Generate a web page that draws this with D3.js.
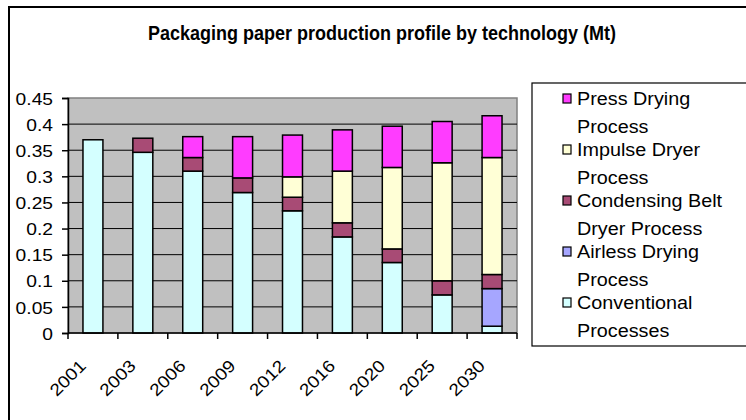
<!DOCTYPE html>
<html>
<head>
<meta charset="utf-8">
<script src="https://cdn.jsdelivr.net/npm/d3@7"></script>
<style>
  html, body { margin: 0; padding: 0; background: #fff; }
  svg { display: block; font-family: Arial, 'Liberation Sans', sans-serif; }
</style>
</head>
<body>
<svg id="chart" width="746" height="420"></svg>
<script>
const years = ['2001', '2003', '2006', '2009', '2012', '2016', '2020', '2025', '2030']
const conventional = [0.370, 0.346, 0.310, 0.269, 0.234, 0.184, 0.135, 0.073, 0.013]
const airless = [0, 0, 0, 0, 0, 0, 0, 0, 0.072]
const condensing = [0, 0.027, 0.026, 0.028, 0.026, 0.027, 0.026, 0.027, 0.027]
const impulse = [0, 0, 0, 0, 0.039, 0.099, 0.156, 0.226, 0.224]
const press = [0, 0, 0.040, 0.079, 0.080, 0.079, 0.079, 0.079, 0.080]
const yTicks = [0, 0.05, 0.1, 0.15, 0.2, 0.25, 0.3, 0.35, 0.4, 0.45]

const SERIES = [
  { key: 'conventional', label: ['Conventional', 'Processes'], values: conventional, color: '#d4ffff' },
  { key: 'airless', label: ['Airless Drying', 'Process'], values: airless, color: '#a6a6ff' },
  { key: 'condensing', label: ['Condensing Belt', 'Dryer Process'], values: condensing, color: '#a84b75' },
  { key: 'impulse', label: ['Impulse Dryer', 'Process'], values: impulse, color: '#ffffd6' },
  { key: 'press', label: ['Press Drying', 'Process'], values: press, color: '#ff3cff' }
]

const PLOT = { left: 68, right: 517, top: 98, bottom: 333 }
const TEXT_STRETCH = 1.13

// text in the original is a bit wider than plain Arial at the same height
function stretch(sel, k) {
  sel.each(function () {
    const w = this.getComputedTextLength()
    d3.select(this).attr('textLength', w * k).attr('lengthAdjust', 'spacingAndGlyphs')
  })
}

const svg = d3.select('#chart')

// outer chart border (runs off the right/bottom edge)
svg.append('rect')
  .attr('x', 9).attr('y', 7)
  .attr('width', 760).attr('height', 430)
  .attr('fill', '#fff').attr('stroke', '#000').attr('stroke-width', 2)

svg.append('text')
  .attr('x', 148).attr('y', 40)
  .attr('font-size', 19.5).attr('font-weight', 700)
  .attr('textLength', 468).attr('lengthAdjust', 'spacingAndGlyphs')
  .attr('fill', '#000')
  .text('Packaging paper production profile by technology (Mt)')

const x = d3.scaleBand().domain(years).range([PLOT.left, PLOT.right]).padding(0)
const y = d3.scaleLinear().domain([0, 0.45]).range([PLOT.bottom, PLOT.top])
const barW = x.bandwidth() / 2.5

const rows = years.map((yr, i) => {
  const r = { year: yr }
  SERIES.forEach(s => { r[s.key] = s.values[i] })
  return r
})
const stacked = d3.stack().keys(SERIES.map(s => s.key))(rows)

// plot area
svg.append('rect')
  .attr('x', PLOT.left).attr('y', PLOT.top)
  .attr('width', PLOT.right - PLOT.left).attr('height', PLOT.bottom - PLOT.top)
  .attr('fill', '#c0c0c0').attr('stroke', '#808080').attr('stroke-width', 1.5)

svg.append('g')
  .selectAll('line')
  .data(yTicks.filter(t => t > 0 && t < 0.45))
  .join('line')
  .attr('x1', PLOT.left).attr('x2', PLOT.right)
  .attr('y1', d => y(d)).attr('y2', d => y(d))
  .attr('stroke', '#000').attr('stroke-width', 1)

const layers = svg.append('g')
  .selectAll('g')
  .data(stacked)
  .join('g')
  .attr('fill', (d, i) => SERIES[i].color)

layers.selectAll('rect')
  .data(d => d.filter(p => p[1] - p[0] > 0))
  .join('rect')
  .attr('x', d => x(d.data.year) + (x.bandwidth() - barW) / 2)
  .attr('width', barW)
  .attr('y', d => y(d[1]))
  .attr('height', d => y(d[0]) - y(d[1]))
  .attr('stroke', '#000').attr('stroke-width', 1.5)

// y axis
const yAxis = svg.append('g')
  .attr('transform', `translate(${PLOT.left},0)`)
  .call(d3.axisLeft(y).tickValues(yTicks).tickSize(6).tickPadding(9).tickFormat(d => String(+d.toFixed(2))))
yAxis.select('.domain').attr('stroke', '#000').attr('stroke-width', 1.5)
yAxis.selectAll('.tick line').attr('stroke', '#000').attr('stroke-width', 1.5)
yAxis.selectAll('.tick text')
  .attr('font-size', 17).attr('font-family', 'Arial, Liberation Sans, sans-serif').attr('fill', '#000')
  .attr('dy', '0.36em')
  .call(stretch, TEXT_STRETCH)

// x axis: ticks at band edges, labels rotated
const xAxisG = svg.append('g').attr('transform', `translate(0,${PLOT.bottom})`)
xAxisG.append('line')
  .attr('x1', PLOT.left).attr('x2', PLOT.right)
  .attr('stroke', '#000').attr('stroke-width', 1.5)
xAxisG.selectAll('line.tk')
  .data(years.concat(['end']))
  .join('line')
  .attr('class', 'tk')
  .attr('x1', (d, i) => PLOT.left + i * x.step())
  .attr('x2', (d, i) => PLOT.left + i * x.step())
  .attr('y1', 0).attr('y2', 6)
  .attr('stroke', '#000').attr('stroke-width', 1.5)
xAxisG.selectAll('text')
  .data(years)
  .join('text')
  .attr('text-anchor', 'end')
  .attr('font-size', 17)
  .attr('fill', '#000')
  .attr('transform', d => `translate(${x(d) + x.bandwidth() / 2 - 6},${34}) rotate(-45)`)
  .text(d => d)
  .call(stretch, TEXT_STRETCH)

// legend
const legend = svg.append('g')
legend.append('rect')
  .attr('x', 532).attr('y', 83)
  .attr('width', 240).attr('height', 263)
  .attr('fill', '#fff').attr('stroke', '#000').attr('stroke-width', 1.2)

const item = legend.selectAll('g.item')
  .data(SERIES.slice().reverse())
  .join('g')
  .attr('class', 'item')
  .attr('transform', (d, i) => `translate(563,${105 + i * 51})`)

item.append('rect')
  .attr('x', 0).attr('y', -11)
  .attr('width', 8).attr('height', 9)
  .attr('fill', d => d.color)
  .attr('stroke', '#000').attr('stroke-width', 1.2)

item.selectAll('text')
  .data(d => d.label)
  .join('text')
  .attr('x', 14)
  .attr('y', (d, i) => i * 28)
  .attr('font-size', 17.5)
  .attr('fill', '#000')
  .text(d => d)
  .call(stretch, TEXT_STRETCH)
</script>
</body>
</html>
